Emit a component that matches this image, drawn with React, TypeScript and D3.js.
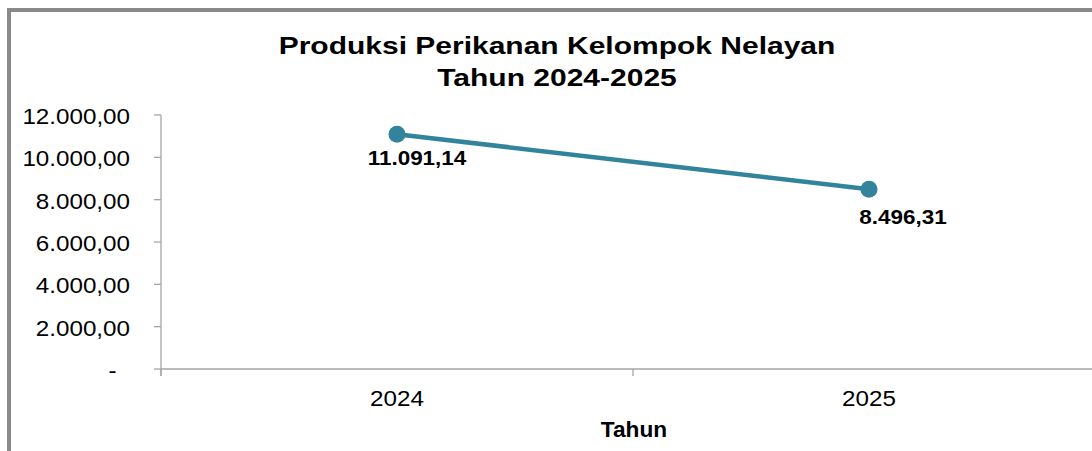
import React from "react";
import * as d3 from "d3";

const categories = ["2024", "2025"];
const values = [11091.14, 8496.31];
const valueLabels = ["11.091,14", "8.496,31"];
const yTicks = [0, 2000, 4000, 6000, 8000, 10000, 12000];
const titleLines = ["Produksi Perikanan Kelompok Nelayan", "Tahun 2024-2025"];
const xAxisTitle = "Tahun";

const W = 1092;
const H = 451;
const FONT = "'Liberation Sans', Arial, sans-serif";
const LINE_COLOR = "#31849B";
const AXIS_COLOR = "#A6A6A6";
// label nudges (layout, not data)
const labelNudge = [
  [20, 31],
  [34, 35],
];

const fmt = (v: number) => {
  if (v === 0) return "-\u2007";
  const s = d3.format(",.2f")(v);
  return s.replace(/,/g, "#").replace(/\./g, ",").replace(/#/g, ".");
};

function SText({ x, y, sx = 1, anchor = "middle", size, bold = false, children }: any) {
  return (
    <text
      transform={`translate(${x},${y}) scale(${sx},1)`}
      textAnchor={anchor}
      fontSize={size}
      fontWeight={bold ? "bold" : "normal"}
      fontFamily={FONT}
      fill="#000"
    >
      {children}
    </text>
  );
}

export default function App() {
  const x = d3.scaleBand<string>().domain(categories).range([161, 1105]).paddingInner(0).paddingOuter(0);
  const y = d3.scaleLinear().domain([0, 12000]).range([369, 115]);
  const cx = (c: string) => (x(c) as number) + x.bandwidth() / 2;

  const line = d3
    .line<number>()
    .x((_, i) => cx(categories[i]))
    .y((d) => y(d));

  const boundaries = [...categories.map((c) => x(c) as number), x.range()[1]];

  return (
    <svg
      width={W}
      height={H}
      style={{ position: "absolute", left: 0, top: 0, background: "#fff" }}
    >
      <rect x={0} y={0} width={W} height={H} fill="#fff" />
      {/* outer chart border (cropped) */}
      <rect x={9} y={10} width={W + 20} height={H + 20} fill="none" stroke="#8A8A8A" strokeWidth={4} />

      {/* title */}
      {titleLines.map((t, i) => (
        <SText key={i} x={557} y={54 + i * 32} sx={1.25} size={24} bold>
          {t}
        </SText>
      ))}

      {/* y axis */}
      <line x1={161} x2={161} y1={y(12000)} y2={y(0) + 7} stroke={AXIS_COLOR} strokeWidth={1.3} />
      {yTicks.map((t) => (
        <g key={t}>
          <line x1={154} x2={161} y1={y(t)} y2={y(t)} stroke={AXIS_COLOR} strokeWidth={1.3} />
          <SText x={130} y={y(t) + 9} sx={1.1} size={22} anchor="end">
            {fmt(t)}
          </SText>
        </g>
      ))}

      {/* x axis */}
      <line x1={161} x2={W} y1={y(0)} y2={y(0)} stroke={AXIS_COLOR} strokeWidth={1.3} />
      {boundaries.map((b, i) => (
        <line key={i} x1={b} x2={b} y1={y(0)} y2={y(0) + 7} stroke={AXIS_COLOR} strokeWidth={1.3} />
      ))}
      {categories.map((c) => (
        <SText key={c} x={cx(c)} y={406} sx={1.1} size={22}>
          {c}
        </SText>
      ))}
      <SText x={634} y={437} sx={1.03} size={22} bold>
        {xAxisTitle}
      </SText>

      {/* series */}
      <path d={line(values) || ""} fill="none" stroke={LINE_COLOR} strokeWidth={4.5} />
      {values.map((v, i) => (
        <circle key={i} cx={cx(categories[i])} cy={y(v)} r={8.5} fill={LINE_COLOR} />
      ))}
      {values.map((v, i) => (
        <SText
          key={"l" + i}
          x={cx(categories[i]) + labelNudge[i][0]}
          y={y(v) + labelNudge[i][1]}
          sx={1.07}
          size={21}
          bold
        >
          {valueLabels[i]}
        </SText>
      ))}
    </svg>
  );
}
